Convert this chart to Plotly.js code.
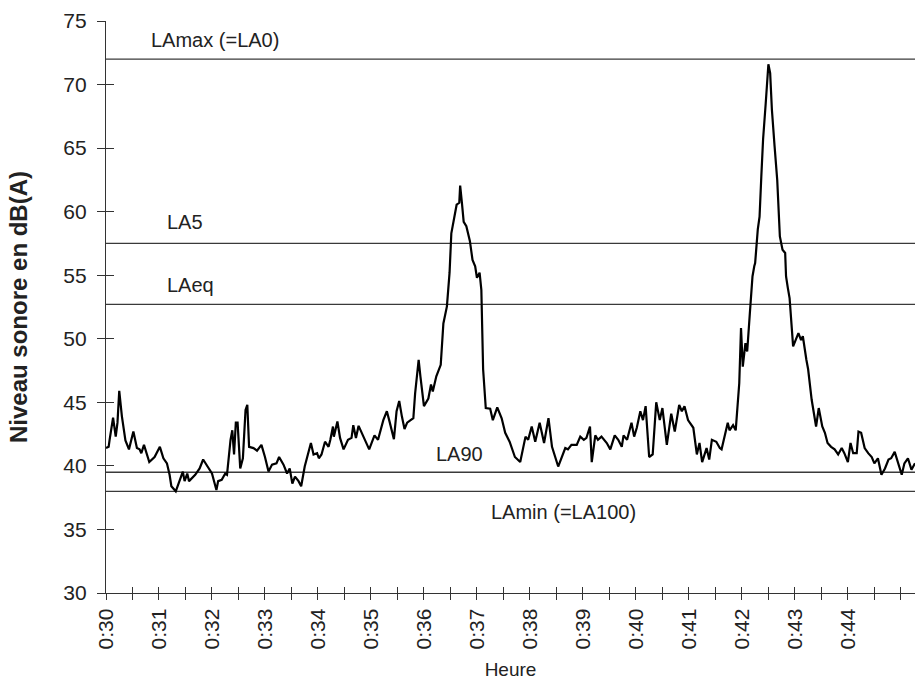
<!DOCTYPE html>
<html>
<head>
<meta charset="utf-8">
<script src="https://cdn.plot.ly/plotly-3.0.1.min.js"></script>
<style>html,body{margin:0;padding:0;background:#fff;}#chart{width:915px;height:681px;}</style>
</head>
<body>
<div id="chart"></div>
<script>
// Time stamps (mm:ss after 0h) and sound level in dB(A)
const times = [
"30:00","30:03","30:04","30:08","30:11","30:13","30:15","30:18","30:22","30:26","30:31","30:35","30:38","30:40","30:43","30:49","30:55",
"31:01","31:05","31:09","31:12","31:14","31:19","31:24","31:27","31:29","31:32","31:34","31:41","31:46","31:50","31:55",
"32:00","32:05","32:07","32:11","32:15","32:17","32:21","32:23","32:25","32:27","32:29","32:32","32:35","32:38","32:40","32:42","32:47","32:51","32:56",
"33:00","33:04","33:08","33:13","33:16","33:21","33:25","33:28","33:31","33:34","33:38","33:41","33:45","33:49","33:52","33:55","33:59",
"34:01","34:04","34:08","34:12","34:14","34:17","34:18","34:22","34:25","34:29","34:34","34:38","34:40","34:43","34:46","34:49","34:53","34:58",
"35:04","35:08","35:14","35:18","35:21","35:26","35:29","35:32","35:35","35:38","35:41","35:48","35:50","35:54","35:56",
"36:00","36:05","36:08","36:10","36:14","36:19","36:20","36:22","36:26","36:29","36:31","36:34","36:37","36:40","36:41","36:43","36:45","36:48","36:52","36:55","36:58",
"37:00","37:03","37:05","37:06","37:07","37:10","37:15","37:18","37:23","37:28","37:32","37:37","37:43","37:49","37:55","37:58",
"38:02","38:06","38:11","38:16","38:21","38:25","38:32","38:40","38:43","38:47","38:53","38:57",
"39:01","39:04","39:08","39:10","39:14","39:17","39:21","39:27","39:31","39:36","39:40","39:44","39:46","39:50","39:55","39:58",
"40:01","40:05","40:08","40:11","40:15","40:19","40:23","40:27","40:30","40:35","40:40","40:44","40:49","40:52","40:55","40:59",
"41:05","41:09","41:12","41:15","41:20","41:23","41:26","41:31","41:35","41:37","41:41","41:44","41:46","41:50","41:53","41:55","41:57","41:59",
"42:01","42:04","42:06","42:09","42:12","42:14","42:15","42:18","42:20","42:22","42:24","42:27","42:29","42:30","42:32","42:34","42:37","42:40","42:43","42:46","42:49","42:50","42:52","42:54","42:58",
"43:04","43:07","43:09","43:13","43:15","43:19","43:24","43:27","43:31","43:34","43:37","43:41","43:45","43:49","43:53","43:56",
"44:00","44:03","44:06","44:10","44:12","44:15","44:19","44:23","44:27","44:30","44:34","44:38","44:42","44:46","44:49","44:53","44:57",
"45:01","45:04","45:08","45:12","45:16"
];
const levels = [
41.4,41.5,42.0,43.8,42.3,43.4,45.9,43.9,42.0,41.3,42.7,41.4,41.3,41.0,41.65,40.3,40.7,
41.5,40.6,40.2,39.3,38.4,38.0,39.0,39.55,38.8,39.4,38.8,39.3,39.8,40.5,39.95,
39.4,38.1,38.8,38.9,39.4,39.3,42.05,42.8,40.9,43.4,43.4,39.8,40.6,44.4,44.8,41.5,41.4,41.2,41.65,
40.7,39.55,40.1,40.2,40.7,40.1,39.4,39.8,38.6,39.15,38.8,38.4,39.95,41.0,41.8,40.9,41.0,
40.6,40.9,41.9,41.5,42.05,43.1,42.3,43.5,42.2,41.3,42.05,42.2,43.2,42.2,43.15,42.7,42.05,41.3,
42.4,42.05,43.6,44.3,43.5,42.1,44.3,45.1,43.9,42.9,43.4,43.75,45.7,48.35,47.05,
44.7,45.3,46.4,45.85,47.05,47.95,49.1,51.2,52.55,55.2,58.3,59.6,60.55,60.7,62.05,60.7,59.2,58.85,57.7,56.2,55.7,
54.8,55.2,53.85,49.9,47.6,44.55,44.5,43.6,44.6,43.75,42.6,41.9,40.7,40.3,42.3,42.05,
43.1,41.9,43.4,41.8,43.75,41.5,39.95,41.4,41.3,41.65,41.65,42.3,
42.05,42.2,43.1,40.3,42.4,42.05,42.3,41.8,41.3,42.4,42.05,41.5,42.4,42.05,43.4,42.3,
43.0,44.3,43.6,44.7,40.7,40.9,45.0,43.6,44.55,41.65,44.1,42.7,44.8,44.3,44.7,43.6,
43.0,40.9,41.8,40.3,41.4,40.5,42.05,41.9,41.4,41.3,42.6,43.4,42.8,43.2,42.8,44.4,46.5,50.85,
47.8,49.65,49.0,52.0,54.9,55.7,55.95,58.6,59.6,62.8,65.7,68.55,71.2,71.6,70.9,68.0,65.15,62.5,58.05,57.0,56.75,54.9,54.0,53.2,49.4,
50.45,49.9,50.2,48.35,47.6,45.2,43.1,44.55,43.1,42.6,41.8,41.5,41.3,40.9,41.4,41.0,
40.3,41.8,41.0,41.0,42.7,42.6,41.4,41.0,40.7,40.2,40.6,39.3,39.8,40.5,40.6,41.1,40.2,
39.3,40.2,40.6,39.7,40.2
];
// Statistical reference levels
const refNames = ["LAmax (=LA0)", "LA5", "LAeq", "LA90", "LAmin (=LA100)"];
const refLevels = [72, 57.5, 52.7, 39.5, 38];
// Axis ticks
const xStart = "30:00";
const xEnd = "45:16";
const xLabelTicks = ["30:00","31:00","32:00","33:00","34:00","35:00","36:00","37:00","38:00","39:00","40:00","41:00","42:00","43:00","44:00"];
const yTickVals = [30, 35, 40, 45, 50, 55, 60, 65, 70, 75];

const toDate = t => "2000-01-01 00:" + t;
const xs = times.map(toDate);
const xRange = [toDate(xStart), toDate(xEnd)];

const FONT = "Liberation Sans, Arial, sans-serif";
const traces = [];
refLevels.forEach((lv, i) => {
  traces.push({
    x: xRange, y: [lv, lv], mode: "lines", name: refNames[i],
    line: {color: "#3a3a3a", width: 1.3}, hoverinfo: "skip", showlegend: false
  });
});
traces.push({
  x: xs, y: levels, mode: "lines", name: "Niveau sonore",
  line: {color: "#000", width: 2.2}, showlegend: false
});
// helper overlay (transparent) to get ticks crossing the axes
traces.push({
  x: xs, y: levels, mode: "lines", xaxis: "x2", yaxis: "y2",
  line: {color: "rgba(0,0,0,0)", width: 0}, hoverinfo: "skip", showlegend: false
});

// label placement (style/layout)
const labelPos = [
  {t: "30:49", dy: 1.5},
  {t: "31:07", dy: 1.7},
  {t: "31:07", dy: 1.5},
  {t: "36:11", dy: 1.45},
  {t: "37:14", dy: -1.6}
];
const annotations = refNames.map((n, i) => ({
  x: toDate(labelPos[i].t), y: refLevels[i] + labelPos[i].dy,
  xref: "x", yref: "y", text: n, showarrow: false,
  xanchor: "left", yanchor: "middle",
  font: {family: FONT, size: 20, color: "#222"}
}));

const axisX = {
  type: "date", range: xRange, tickformat: "%-H:%M",
  tickmode: "array", tickvals: xLabelTicks.map(toDate), tickangle: -90,
  ticks: "outside", ticklen: 6, tickwidth: 1, tickcolor: "#333",
  minor: {dtick: 30000, tick0: toDate("30:00"), ticks: "outside", ticklen: 6, tickwidth: 1, tickcolor: "#333", showgrid: false},
  showline: true, linecolor: "#333", linewidth: 1.2,
  showgrid: false, zeroline: false,
  tickfont: {family: FONT, size: 21, color: "#222"},
  title: {text: "Heure", font: {family: FONT, size: 19, color: "#222"}, standoff: 14},
  fixedrange: true
};
const axisY = {
  range: [30, 75], tickvals: yTickVals,
  ticks: "outside", ticklen: 8, tickwidth: 1, tickcolor: "#333",
  showline: true, linecolor: "#333", linewidth: 1.2,
  showgrid: false, zeroline: false, ticklabelstandoff: 6,
  tickfont: {family: FONT, size: 21, color: "#222"},
  title: {text: "<b>Niveau sonore en dB(A)</b>", font: {family: FONT, size: 24, color: "#222"}, standoff: 28},
  fixedrange: true
};

const layout = {
  width: 915, height: 681,
  margin: {l: 106, r: 0, t: 21, b: 88},
  paper_bgcolor: "#fff", plot_bgcolor: "#fff",
  xaxis: axisX,
  yaxis: axisY,
  xaxis2: {
    type: "date", overlaying: "x", matches: "x", side: "bottom", range: xRange,
    dtick: 30000, tick0: toDate("30:00"), ticks: "inside", ticklen: 6, tickwidth: 1, tickcolor: "#333",
    showticklabels: false, showline: false, showgrid: false, zeroline: false, fixedrange: true
  },
  yaxis2: {
    overlaying: "y", matches: "y", side: "left", range: [30, 75], tickvals: yTickVals,
    ticks: "inside", ticklen: 8, tickwidth: 1, tickcolor: "#333",
    showticklabels: false, showline: false, showgrid: false, zeroline: false, fixedrange: true
  },
  annotations: annotations,
  showlegend: false
};

Plotly.newPlot("chart", traces, layout, {displayModeBar: false, staticPlot: true});
</script>
</body>
</html>
